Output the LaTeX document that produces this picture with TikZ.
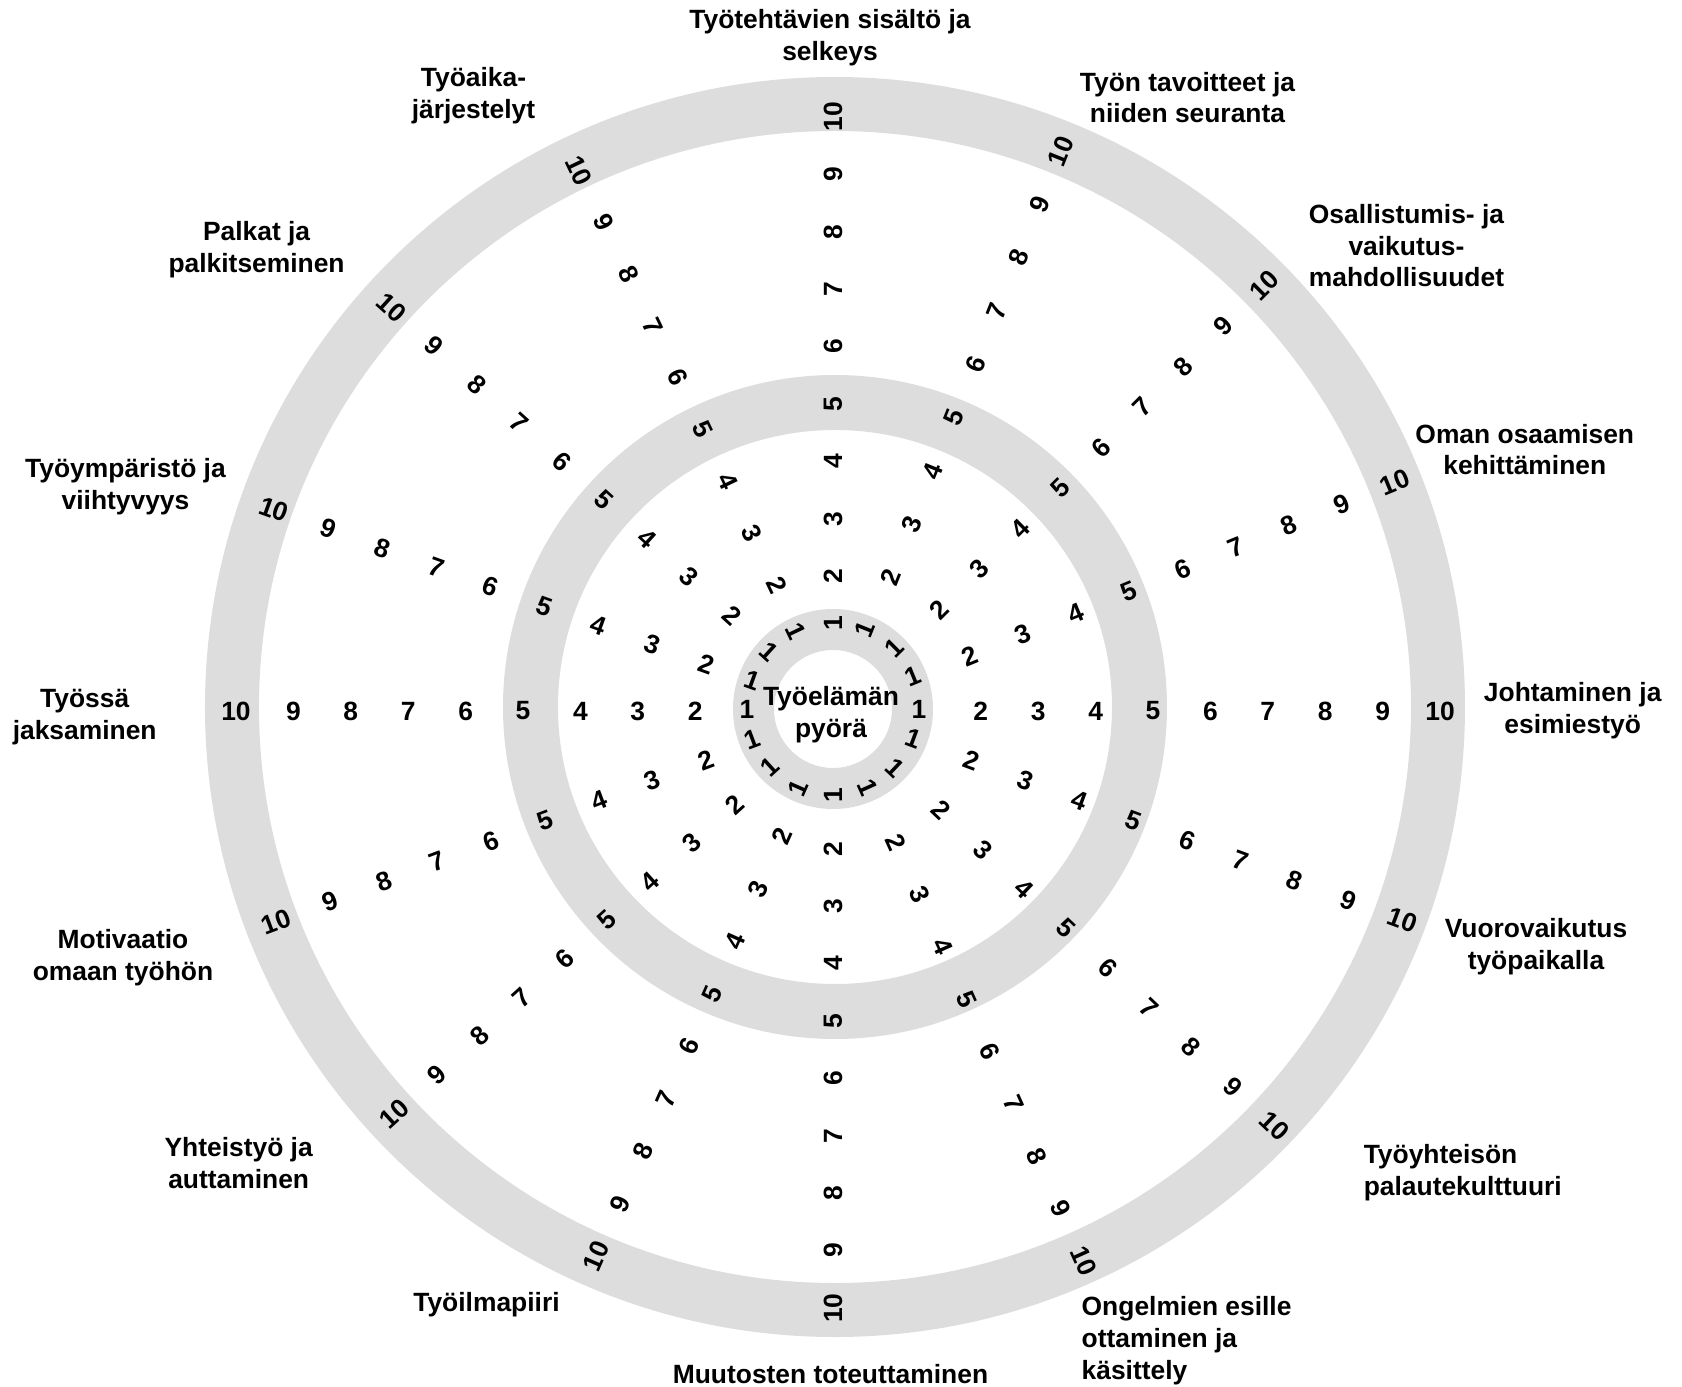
\documentclass[tikz,border=0pt]{standalone}
\usepackage{fontspec}
\setmainfont{Liberation Sans}
\usepackage{tikz}
\usetikzlibrary{calc}

\definecolor{ringgrey}{RGB}{221,221,221}
\tikzset{
    num/.style={font=\bfseries\fontsize{13.2}{15.9}\selectfont, inner sep=0pt},
    lab/.style={font=\bfseries\fontsize{13.2}{15.9}\selectfont, align=center, inner sep=0pt},
    labl/.style={lab, align=left, anchor=west},
}

\begin{document}
\begin{tikzpicture}[x=0.5pt, y=0.5pt]

    %% Background
    \draw[draw=none] (-835,-680) rectangle (847,707);

    %% Grey rings
    \fill[ringgrey, even odd rule] (0,0) circle (630) circle (576);
    \fill[ringgrey, even odd rule] (0,0) circle (332) circle (277);
    \fill[ringgrey, even odd rule] (-2,-2) circle (100) circle (59);

    %% Scale on the 16 spokes (angle/radial correction/sideways correction)
    \foreach \ang/\dr/\dx [count=\i] in {0/0/2,22.3/0/2,44.9/0/2,68.2/0/2,90/-9/-2,115.5/-4/2,137.8/-2/2,160.3/-5/2,180/-2/2,200.6/-4/2,222.3/-5/2,246.2/-7/2,270/-6/-2,294.2/0/2,316.5/0/2,339.7/0/2}
    {
    \pgfmathsetmacro{\rot}{\ang-180*floor((\ang+89.9)/180)}
    \node[num, rotate=\rot] (one-\i) at ([shift={(-2,-2)}]\ang:86) {1};
    \foreach \k in {2,...,10}
    {
    \node[num, rotate=\rot] (n\k-\i) at ([shift={(\dx,-4)}]\ang:{316+\dr+(\k-5)*57.4}) {\k};
    }
    }

    %% Centre
    \node[lab] (wheel) at (-4,-8) {Työelämän\\pyörä};

    %% Topics
    \node[lab] (tehtavat) at (-5,669.5) {Työtehtävien sisältö ja\\selkeys};
    \node[lab] (tavoitteet) at (352.5,609.4) {Työn tavoitteet ja\\niiden seuranta};
    \node[lab] (osallistuminen) at (571.5,461.3) {Osallistumis- ja\\vaikutus-\\mahdollisuudet};
    \node[lab] (osaaminen) at (689.8,257.5) {Oman osaamisen\\kehittäminen};
    \node[lab] (johtaminen) at (737.7,-3.5) {Johtaminen ja\\esimiestyö};
    \node[lab] (vuorovaikutus) at (701,-240) {Vuorovaikutus\\työpaikalla};
    \node[labl] (palaute) at (528.4,-465.5) {Työyhteisön\\palautekulttuuri};
    \node[labl] (ongelmat) at (246.3,-633.8) {Ongelmien esille\\ottaminen ja\\käsittely};
    \node[lab] (muutokset) at (-4.5,-667.5) {Muutosten toteuttaminen};
    \node[lab] (ilmapiiri) at (-348.5,-597.5) {Työilmapiiri};
    \node[lab] (yhteistyo) at (-596.3,-455.8) {Yhteistyö ja\\auttaminen};
    \node[lab] (motivaatio) at (-712,-250.5) {Motivaatio\\omaan työhön};
    \node[lab] (jaksaminen) at (-750.3,-10) {Työssä\\jaksaminen};
    \node[lab] (ymparisto) at (-709.5,220) {Työympäristö ja\\viihtyvyys};
    \node[lab] (palkat) at (-578.4,457) {Palkat ja\\palkitseminen};
    \node[lab] (tyoaika) at (-361.5,611.5) {Työaika-\\järjestelyt};

\end{tikzpicture}
\end{document}
